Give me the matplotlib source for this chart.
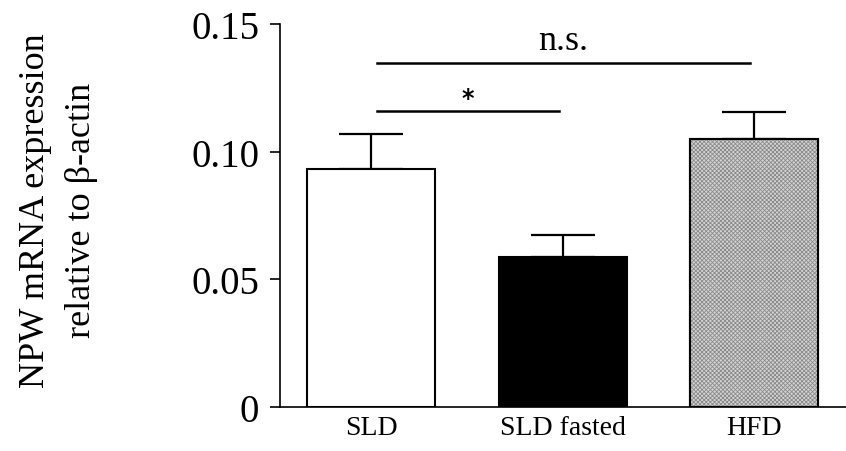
import matplotlib
matplotlib.use("Agg")
import matplotlib.pyplot as plt

plt.rcParams['font.family'] = ['Liberation Serif', 'DejaVu Serif']
plt.rcParams['hatch.linewidth'] = 0.6

groups = ["SLD", "SLD fasted", "HFD"]
means = [0.0932, 0.0587, 0.1049]
sems = [0.0137, 0.0086, 0.0106]
fills = ["white", "black", "#d4d4d4"]

# significance brackets: (start, end, height, text, text height)
brackets = [(0.03, 0.98, 0.1159, "*", 0.1212),
            (0.03, 1.98, 0.1347, "n.s.", 0.1402)]

fig = plt.figure(figsize=(8.46, 4.52), dpi=100)
ax = fig.add_axes([0.331, 0.0973, 0.669, 0.8474])

x = range(len(groups))
ax.bar(x, means, width=0.668, color=fills, edgecolor="black", linewidth=1.5, zorder=2)
# dotted texture on HFD bar
ax.bar([2], [means[2]], width=0.668, color="none", edgecolor="#8a8a8a",
       hatch="xxxxxxxx", linewidth=0, zorder=3)
ax.bar([2], [means[2]], width=0.668, color="none", edgecolor="black", linewidth=1.5, zorder=4)
ax.errorbar(x, means, yerr=[[0] * 3, sems], fmt="none", ecolor="black",
            elinewidth=1.6, capsize=23, capthick=1.6, zorder=1)

for x0, x1, h, txt, th in brackets:
    ax.plot([x0, x1], [h, h], color="black", linewidth=1.8)
    if txt == "*":
        ax.text((x0 + x1) / 2, th, txt, ha="center", va="center",
                fontsize=17, family="DejaVu Sans", fontweight="bold")
    else:
        ax.text((x0 + x1) / 2, th, txt, ha="center", va="baseline", fontsize=26)

ax.set_xlim(-0.475, 2.48)
ax.set_ylim(0, 0.15)
ax.set_yticks([0, 0.05, 0.10, 0.15])
ax.set_yticklabels(["0", "0.05", "0.10", "0.15"])
ax.set_xticks(list(x))
ax.set_xticklabels(groups)
ax.tick_params(axis="y", length=7, width=1.2, labelsize=28, pad=8)
ax.tick_params(axis="x", length=0, labelsize=20, pad=6)

for s in ["top", "right"]:
    ax.spines[s].set_visible(False)
ax.spines["left"].set_linewidth(1.2)
ax.spines["bottom"].set_linewidth(1.2)

ax.set_ylabel("NPW mRNA expression\nrelative to β-actin", fontsize=26, linespacing=1.5)
ax.yaxis.set_label_coords(-0.322, 0.515)

fig.savefig("out.png", dpi=100)
